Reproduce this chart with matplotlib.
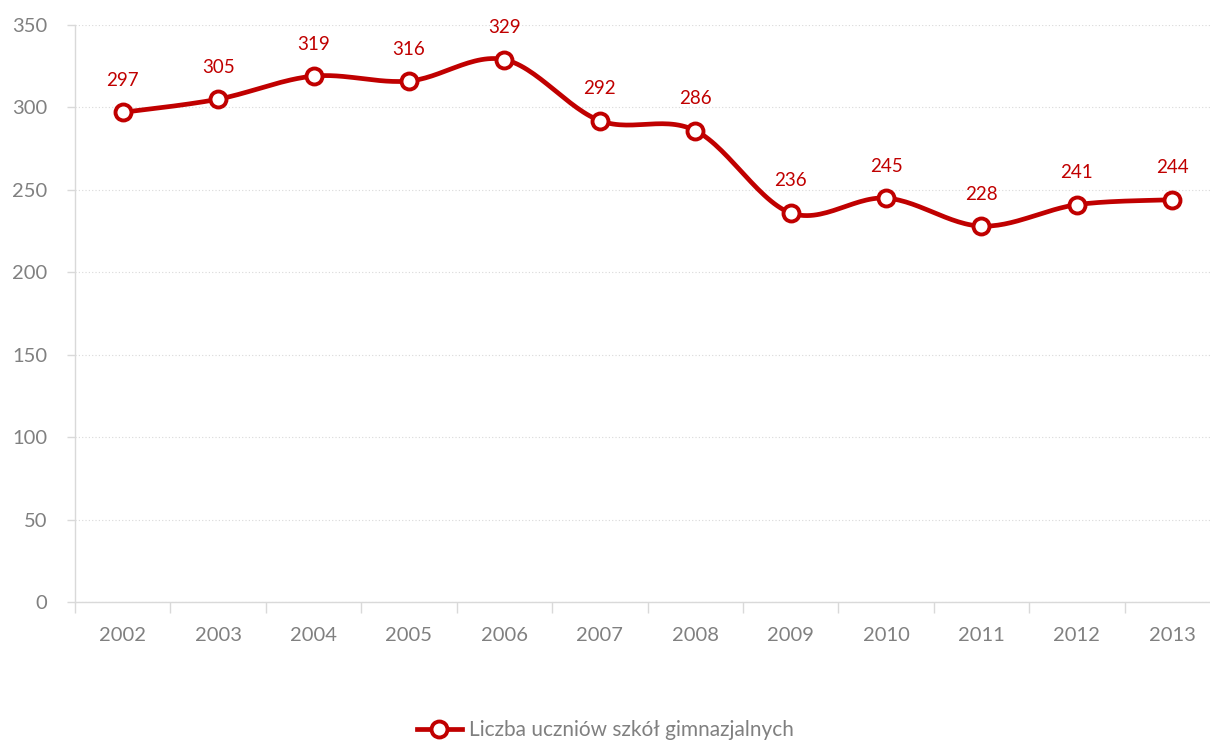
import numpy as np
import matplotlib.pyplot as plt

years = ["2002", "2003", "2004", "2005", "2006", "2007",
         "2008", "2009", "2010", "2011", "2012", "2013"]
students = [297, 305, 319, 316, 329, 292, 286, 236, 245, 228, 241, 244]
series_name = "Liczba uczniów szkół gimnazjalnych"

red = "#C00000"
gray = "#808080"
plt.rcParams['font.family'] = ['Lato', 'DejaVu Sans']


def smooth(x, y, n=30):
    # Excel-style smoothed line: cubic Bezier with Catmull-Rom control points
    x = np.asarray(x, float)
    y = np.asarray(y, float)
    px = np.concatenate([[x[0]], x, [x[-1]]])
    py = np.concatenate([[y[0]], y, [y[-1]]])
    xs, ys = [], []
    t = np.linspace(0, 1, n)
    for i in range(len(x) - 1):
        p0 = np.array([px[i + 1], py[i + 1]])
        p3 = np.array([px[i + 2], py[i + 2]])
        p1 = p0 + (np.array([px[i + 2], py[i + 2]]) - np.array([px[i], py[i]])) / 6
        p2 = p3 - (np.array([px[i + 3], py[i + 3]]) - np.array([px[i + 1], py[i + 1]])) / 6
        b = ((1 - t) ** 3)[:, None] * p0 + (3 * (1 - t) ** 2 * t)[:, None] * p1 \
            + (3 * (1 - t) * t ** 2)[:, None] * p2 + (t ** 3)[:, None] * p3
        xs.extend(b[:, 0])
        ys.extend(b[:, 1])
    return np.array(xs), np.array(ys)


x = np.arange(len(years))
fig = plt.figure(figsize=(12.1, 7.4), dpi=100)
ax = fig.add_axes([75 / 1210, 138 / 740, 1145 / 1210, 577 / 740])

sx, sy = smooth(x, students)
ax.plot(sx, sy, color=red, lw=3.4, solid_capstyle='round', zorder=3)
ax.plot(x, students, ls='none', marker='o', ms=11.5, mfc='white', mec=red,
        mew=2.8, zorder=4)
ax.plot([], [], color=red, lw=3.4, marker='o', ms=11.5, mfc='white', mec=red,
        mew=2.8, label=series_name)

for xi, v in zip(x, students):
    ax.annotate(str(v), (xi, v), xytext=(0, 23), textcoords='offset points',
                ha='center', va='center', color=red, fontsize=13.5)

ax.set_ylim(0, 350)
ax.set_yticks(range(0, 351, 50))
ax.set_xlim(-0.5, len(years) - 0.5)
ax.set_xticks(np.arange(-0.5, len(years), 1))
ax.set_xticklabels([])
ax.set_xticks(x, minor=True)
ax.set_xticklabels(years, minor=True)

ax.grid(axis='y', color='#D9D9D9', ls=(0, (1, 2)), lw=0.8)
ax.set_axisbelow(True)
for s in ['top', 'right']:
    ax.spines[s].set_visible(False)
for s in ['left', 'bottom']:
    ax.spines[s].set_color('#D9D9D9')
    ax.spines[s].set_linewidth(1)

ax.tick_params(axis='y', colors='#D9D9D9', labelcolor=gray, labelsize=14.5,
               length=6, width=1, pad=14)
ax.tick_params(axis='x', which='major', colors='#D9D9D9', length=8, width=1)
ax.tick_params(axis='x', which='minor', length=0, labelcolor=gray,
               labelsize=14.5, pad=18)

fig.legend(loc='center', bbox_to_anchor=(0.5, 10 / 740),
           frameon=False, fontsize=15, labelcolor=gray, handlelength=2.2,
           handletextpad=0.3)

fig.savefig("out.png", dpi=100)
